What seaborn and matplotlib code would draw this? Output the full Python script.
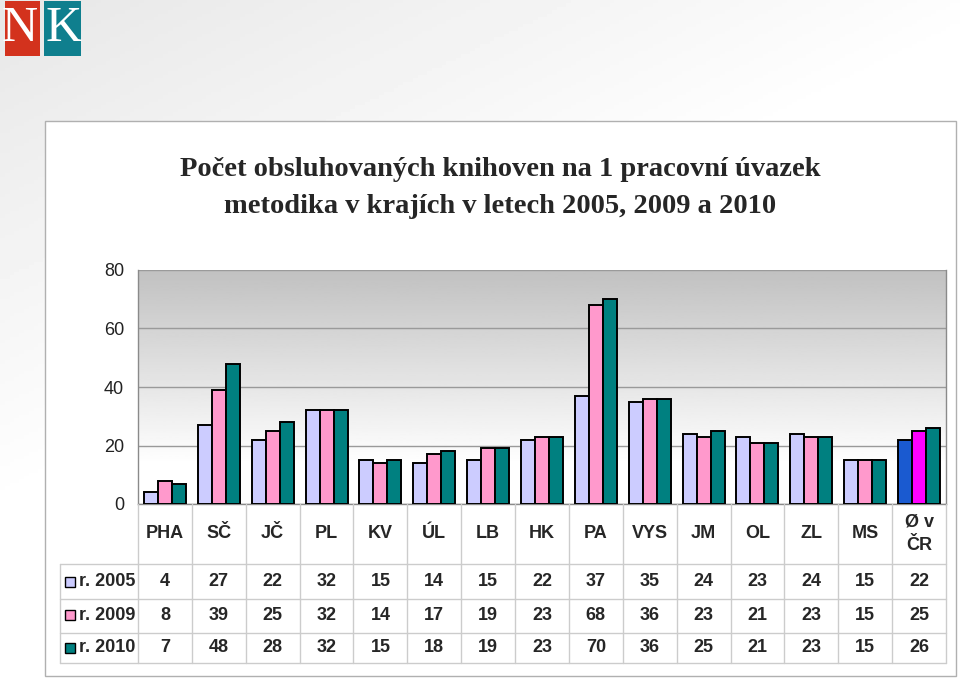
import numpy as np
import pandas as pd
import matplotlib
matplotlib.use("Agg")
import matplotlib.pyplot as plt
import matplotlib.transforms as mtrans
from matplotlib.patches import Rectangle
import seaborn as sns

categories = ["PHA", "SČ", "JČ", "PL", "KV", "ÚL", "LB", "HK", "PA", "VYS",
              "JM", "OL", "ZL", "MS", "Ø v\nČR"]
series_names = ["r. 2005", "r. 2009", "r. 2010"]
r2005 = [4, 27, 22, 32, 15, 14, 15, 22, 37, 35, 24, 23, 24, 15, 22]
r2009 = [8, 39, 25, 32, 14, 17, 19, 23, 68, 36, 23, 21, 23, 15, 25]
r2010 = [7, 48, 28, 32, 15, 18, 19, 23, 70, 36, 25, 21, 23, 15, 26]
yticks = [0, 20, 40, 60, 80]
title = "Počet obsluhovaných knihoven na 1 pracovní úvazek\nmetodika v krajích v letech 2005, 2009 a 2010"

colors = ["#ccccff", "#ff99cc", "#008080"]
avg_colors = ["#1a5ad0", "#ff00ff", "#008080"]

sns.set_theme(style="white")
plt.rcParams['font.family'] = ['Liberation Sans', 'DejaVu Sans']

W, H = 960, 680
fig = plt.figure(figsize=(9.6, 6.8), dpi=100)

def fx(px):
    return px / W

def fy(py):
    return 1 - py / H

# background gradient
bg = fig.add_axes([0, 0, 1, 1], zorder=-10)
xx, yy = np.meshgrid(np.linspace(0, 1, 200), np.linspace(0, 1, 200))
val = 0.905 + 0.095 * np.clip((xx * 1.1 + yy * 1.6) / 1.2, 0, 1)
bg.imshow(val, cmap="gray", vmin=0, vmax=1, extent=[0, 1, 0, 1], aspect="auto", origin="upper")
bg.set_axis_off()

# white panel
fig.patches.append(Rectangle((fx(45), fy(676)), fx(956) - fx(45), fy(121) - fy(676),
                             transform=fig.transFigure, facecolor="white",
                             edgecolor="#b0b0b0", lw=1.0, zorder=-5))

# logo
fig.patches.append(Rectangle((fx(5), fy(56)), fx(40) - fx(5), fy(1) - fy(56),
                             transform=fig.transFigure, facecolor="#d3321d", lw=0, zorder=-4))
fig.patches.append(Rectangle((fx(44), fy(56)), fx(81) - fx(44), fy(1) - fy(56),
                             transform=fig.transFigure, facecolor="#0f7f8e", lw=0, zorder=-4))
fig.text(fx(20), fy(29), "N", color="white", fontsize=36, family="Liberation Serif",
         ha="center", va="center")
fig.text(fx(64), fy(29), "K", color="white", fontsize=36, family="Liberation Serif",
         ha="center", va="center")

# title
fig.text(fx(500), fy(188), title, ha="center", va="center", fontsize=20.5,
         family="Liberation Serif", fontweight="bold", linespacing=1.6)

# main axes
ax = fig.add_axes([fx(138), fy(504), fx(946) - fx(138), fy(270) - fy(504)])
df = pd.DataFrame({
    "kraj": categories * 3,
    "rok": sum([[s] * len(categories) for s in series_names], []),
    "hodnota": r2005 + r2009 + r2010,
})
sns.barplot(data=df, x="kraj", y="hodnota", hue="rok", palette=colors, ax=ax,
            width=0.78, gap=0, edgecolor="black", linewidth=1.4, legend=False,
            zorder=3, saturation=1)
for i, cont in enumerate(ax.containers):
    cont.patches[-1].set_facecolor(avg_colors[i])

ax.set_ylim(0, 80)
ax.set_xlim(-0.5, len(categories) - 0.5)
ax.set_yticks(yticks)
ax.set_yticklabels([str(t) for t in yticks], fontsize=13, color="#222222")
ax.tick_params(axis="y", length=0, pad=10)
ax.set_xticks([])
ax.set_xlabel("")
ax.set_ylabel("")
ax.grid(axis="y", color="#9a9a9a", lw=1.0, zorder=1)
ax.set_axisbelow(True)
for s in ax.spines.values():
    s.set_color("#8a8a8a")
    s.set_linewidth(1.0)
ax.spines["top"].set_visible(False)

# gradient inside plot area
ax.imshow(np.linspace(0.755, 1.05, 200).reshape(-1, 1).clip(0, 1), cmap="gray", vmin=0, vmax=1,
          extent=[-0.5, len(categories) - 0.5, 0, 80], aspect="auto", origin="upper", zorder=0)

# data table
bt = mtrans.blended_transform_factory(ax.transData, fig.transFigure)
line_col = "#cccccc"
y_top, y_h, y1, y2, y_bot = 504, 564, 599, 633, 663
for k in range(len(categories) + 1):
    xb = k - 0.5
    fig.add_artist(plt.Line2D([xb, xb], [fy(y_top), fy(y_bot)], transform=bt,
                              color=line_col, lw=1.0))
for yl in [y_h, y1, y2, y_bot]:
    fig.add_artist(plt.Line2D([fx(60), fx(946)], [fy(yl), fy(yl)], transform=fig.transFigure,
                              color=line_col, lw=1.0))
fig.add_artist(plt.Line2D([fx(60), fx(60)], [fy(y_h), fy(y_bot)], transform=fig.transFigure,
                          color=line_col, lw=1.0))

for k, c in enumerate(categories):
    fig.text(k, fy(534), c, transform=bt, ha="center", va="center", fontsize=13,
             fontweight="bold", linespacing=1.5)

rows = [r2005, r2009, r2010]
row_y = [582, 615, 648]
for r, (vals, yy_, name, col) in enumerate(zip(rows, row_y, series_names, colors)):
    fig.patches.append(Rectangle((fx(65), fy(yy_ + 5)), fx(10), fy(0) - fy(10),
                                 transform=fig.transFigure, facecolor=col,
                                 edgecolor="black", lw=1.0))
    fig.text(fx(79), fy(yy_), name, ha="left", va="center", fontsize=13, fontweight="bold")
    for k, v in enumerate(vals):
        fig.text(k, fy(yy_), str(v), transform=bt, ha="center", va="center",
                 fontsize=13, fontweight="bold")

fig.savefig("out.png", dpi=100)
